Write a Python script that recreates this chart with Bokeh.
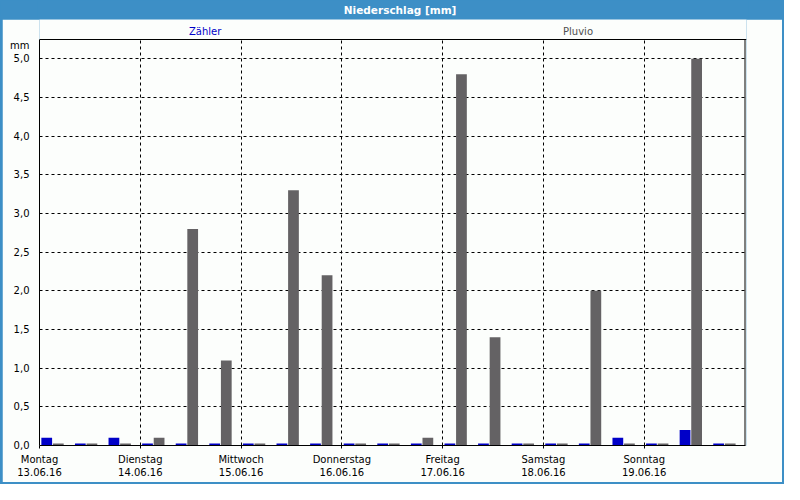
from bokeh.plotting import figure
from bokeh.models import Range1d, FixedTicker, CustomJSTickFormatter, ColumnDataSource, Span
from bokeh.layouts import column
from bokeh.core.properties import value
from bokeh.embed import file_html
from bokeh.resources import INLINE

# ---- data ----
days = ["Montag", "Dienstag", "Mittwoch", "Donnerstag", "Freitag", "Samstag", "Sonntag"]
dates = ["13.06.16", "14.06.16", "15.06.16", "16.06.16", "17.06.16", "18.06.16", "19.06.16"]
series_names = ["Zähler", "Pluvio"]
intervals_per_day = 3
zaehler = [0.1, 0.0, 0.1,  0.0, 0.0, 0.0,  0.0, 0.0, 0.0,  0.0, 0.0, 0.0,
           0.0, 0.0, 0.0,  0.0, 0.0, 0.1,  0.0, 0.2, 0.0]
pluvio = [0.0, 0.0, 0.0,  0.1, 2.8, 1.1,  0.0, 3.3, 2.2,  0.0, 0.0, 0.1,
          4.8, 1.4, 0.0,  0.0, 2.0, 0.0,  0.0, 5.0, 0.0]
y_ticks = [0.0, 0.5, 1.0, 1.5, 2.0, 2.5, 3.0, 3.5, 4.0, 4.5, 5.0]
y_max = 5.25

FONT = "DejaVu Sans"
FS = "10px"
BG = "#fcfefc"
FRAME_BLUE = "#3d8fc6"
BLUE = "#0000c8"
GREY = "#646264"
MIN_H = 0.025  # zero values are shown as a thin visible bar

W, H = 784, 484
BAR_H = 19                 # blue title bar height
MAIN_H = H - BAR_H - 2     # main chart height (2px blue border below)
PX_PER_Y = 406 / y_max     # vertical scale of the value axis
STRIP = 20                 # strip above the value frame holding the series names

n = len(zaehler)
idx = list(range(n))
src = ColumnDataSource(dict(
    xb=[i + 0.215 for i in idx],
    xg=[i + 0.56 for i in idx],
    zb=[max(v, MIN_H) for v in zaehler],
    pg=[max(v, MIN_H) for v in pluvio],
))

# ---- header: blue title bar ----
t = figure(width=W, height=BAR_H, x_range=Range1d(0, 1), y_range=Range1d(0, 1),
           toolbar_location=None, output_backend="svg",
           x_axis_location=None, y_axis_location=None, min_border=0)
t.background_fill_color = FRAME_BLUE
t.border_fill_color = FRAME_BLUE
t.outline_line_color = None
t.grid.visible = False
t.text(x=[0.51], y=[0.5], text=["Niederschlag [mm]"], text_align="center",
       text_baseline="middle", text_color="white", text_font=value(FONT),
       text_font_size="10.5px", text_font_style="bold")

# ---- main chart ----
x_end = n + 1.5 / (705.6 / n)
p = figure(width=W - 4, height=MAIN_H,
           x_range=Range1d(0, x_end), y_range=Range1d(0, y_max + STRIP / PX_PER_Y),
           toolbar_location=None, output_backend="svg",
           min_border_left=37, min_border_right=36, min_border_top=0, min_border_bottom=37)
p.margin = (0, 2, 2, 2)
p.background_fill_color = BG
p.border_fill_color = BG
p.outline_line_color = None

p.vbar(x="xb", top="zb", bottom=0, width=0.32, source=src, fill_color=BLUE, line_color=None)
p.vbar(x="xg", top="pg", bottom=0, width=0.32, source=src, fill_color=GREY, line_color=None)

# frame lines: top and right
p.add_layout(Span(location=y_max, dimension="width", line_color="black", line_width=1))
p.segment(x0=[n], y0=[0], x1=[n], y1=[y_max], line_color="black", line_width=1)

# series names above the frame
p.text(x=[4.93, 16.03], y=[y_max + 8 / PX_PER_Y] * 2, text=series_names,
       text_align="center", text_baseline="middle", text_color=[BLUE, "#505050"],
       text_font=value(FONT), text_font_size=FS)

# x axis
day_ticks = [d * intervals_per_day for d in range(len(days))]
p.xaxis.ticker = FixedTicker(ticks=day_ticks)
p.xaxis.major_label_overrides = {tk: f"{d}\n{dt}" for tk, d, dt in zip(day_ticks, days, dates)}
p.xaxis.bounds = (0, n)
p.xaxis.major_tick_out = 3
p.xaxis.major_tick_in = 0
p.xaxis.minor_tick_line_color = None
p.xaxis.major_label_standoff = 5
p.xaxis.major_label_text_font = FONT
p.xaxis.major_label_text_font_size = FS
p.xaxis.major_label_text_color = "black"
p.xaxis.axis_line_color = "black"
p.xaxis.major_tick_line_color = "black"

# y axis ("mm" as an extra label at the top)
p.yaxis.ticker = FixedTicker(ticks=y_ticks + [5.17])
p.yaxis.formatter = CustomJSTickFormatter(
    code="if (tick > 5.1) { return 'mm'; } return tick.toFixed(1).replace('.', ',');")
p.yaxis.bounds = (0, y_max)
p.yaxis.major_tick_line_color = None
p.yaxis.minor_tick_line_color = None
p.yaxis.major_label_standoff = 4
p.yaxis.major_label_text_font = FONT
p.yaxis.major_label_text_font_size = FS
p.yaxis.major_label_text_color = "black"
p.yaxis.axis_line_color = "black"

# grids
p.xgrid.ticker = FixedTicker(ticks=day_ticks[1:])
p.xgrid.cross_bounds = (0, y_max)
p.ygrid.ticker = FixedTicker(ticks=y_ticks[1:])
p.ygrid.cross_bounds = (0, n)
for g in (p.xgrid, p.ygrid):
    g.grid_line_color = "black"
    g.grid_line_dash = "3 3"
    g.grid_line_width = 1

layout = column(t, p, styles={"background-color": FRAME_BLUE})

open("out.html", "w").write(file_html(layout, INLINE))
